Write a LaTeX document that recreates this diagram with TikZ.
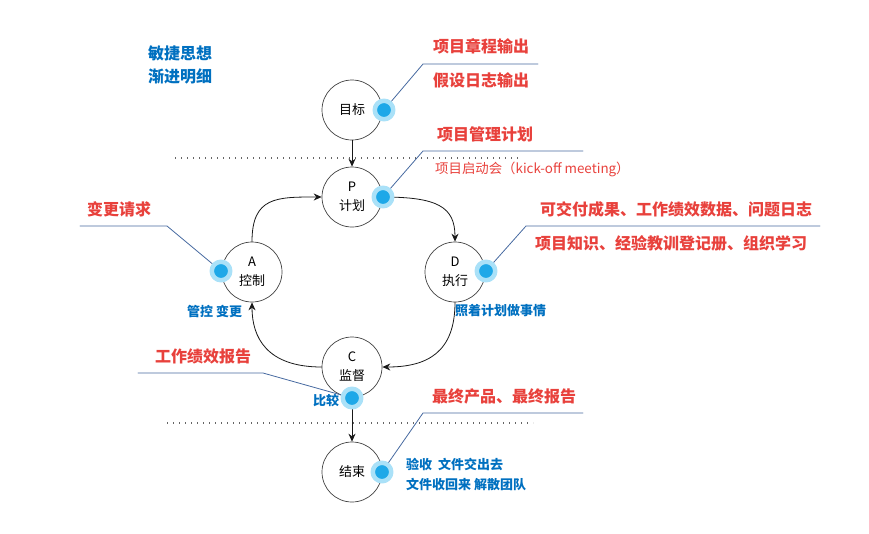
\documentclass[tikz,border=0pt]{standalone}
\usepackage{fontspec}
\setmainfont{Noto Sans CJK SC}
\usetikzlibrary{arrows.meta}
\definecolor{labelred}{RGB}{232,65,60}
\definecolor{noteblue}{RGB}{0,112,192}
\definecolor{leader}{RGB}{70,105,160}
\definecolor{dotblue}{RGB}{30,168,232}
\definecolor{glowblue}{RGB}{170,225,248}
\begin{document}
\begin{tikzpicture}[
		x=1pt,y=-1pt,
		>={Stealth[length=8pt,width=7pt]},
		line cap=round,
		line join=round,
		stage/.style={circle,draw=black!75,line width=0.7pt,minimum size=60pt,inner sep=0pt,align=center,font=\fontsize{13}{19}\selectfont},
		spot/.style={circle,fill=dotblue,draw=glowblue,line width=4.5pt,minimum size=18.5pt,inner sep=0pt},
		redlabel/.style={text=labelred,font=\fontsize{16}{18}\selectfont\bfseries,anchor=west,inner sep=0pt},
		bluenote/.style={text=noteblue,font=\fontsize{13}{20}\selectfont\bfseries,anchor=west,inner sep=0pt,align=left},
		leaderline/.style={draw=leader,line width=0.8pt},
		flow/.style={->,line width=0.8pt,black!90},
		phase/.style={line cap=butt,dash pattern=on 1.4pt off 4.6pt,line width=1.4pt,black!60}
		]
		\useasboundingbox (0,0) rectangle (869,533);
		% phase boundaries
		\draw[phase] (175,158) -- (522,158);
		\draw[phase] (167,423) -- (533,423);
		% stages
		\node[stage] (goal) at (352,110) {目标};
		\node[stage] (plan) at (352,197) {P\\计划};
		\node[stage] (act) at (252,272) {A\\控制};
		\node[stage] (do) at (455,272) {D\\执行};
		\node[stage] (check) at (352,367) {C\\监督};
		\node[stage] (close) at (352,472) {结束};
		% flow
		\draw[flow] (goal) -- (plan);
		\draw[flow] (act.north) .. controls +(0,-45) and +(-45,0) .. (plan.west);
		\draw[flow] (plan.east) .. controls +(55,0) and +(0,-35) .. (do.north);
		\draw[flow] (do.south) .. controls +(0,50) and +(45,0) .. (check.east);
		\draw[flow] (check.west) .. controls +(-55,0) and +(0,35) .. (act.south);
		\draw[flow] (check) -- (close);
		% leader lines
		\coordinate (goalkink) at (423,64);
		\coordinate (plankink) at (423,151);
		\coordinate (actkink) at (167,226);
		\coordinate (dokink) at (526,226);
		\coordinate (checkkink) at (263,373);
		\coordinate (closekink) at (423,413);
		\coordinate (goalspot) at (384,110);
		\coordinate (planspot) at (383,197);
		\coordinate (actspot) at (221,271);
		\coordinate (dospot) at (486,271);
		\coordinate (checkspot) at (352,398);
		\coordinate (closespot) at (382,472);
		\draw[leaderline] (goalspot) -- (goalkink) -- ++(115,0);
		\draw[leaderline] (planspot) -- (plankink) -- ++(160,0);
		\draw[leaderline] (actspot) -- (actkink) -- ++(-87,0);
		\draw[leaderline] (dospot) -- (dokink) -- ++(294,0);
		\draw[leaderline] (checkspot) -- (checkkink) -- ++(-125,0);
		\draw[leaderline] (closespot) -- (closekink) -- ++(160,0);
		\foreach \s in {goalspot,planspot,actspot,dospot,checkspot,closespot}
			\node[spot] (\s ball) at (\s) {};
		% labels
		\node[bluenote,font=\fontsize{16}{23}\selectfont\bfseries] (idea) at (148,64.5) {敏捷思想\\渐进明细};
		\node[redlabel] (charter) at (433,46) {项目章程输出};
		\node[redlabel] (assume) at (433,80) {假设日志输出};
		\node[redlabel] (pmplan) at (437,134) {项目管理计划};
		\node[redlabel,font=\fontsize{13.4}{15}\selectfont] (kickoff) at (435,169) {项目启动会（kick-off meeting）};
		\node[redlabel] (change) at (87,209) {变更请求};
		\node[redlabel] (deliver) at (540,209) {可交付成果、工作绩效数据、问题日志};
		\node[redlabel] (learn) at (535,243) {项目知识、经验教训登记册、组织学习};
		\node[redlabel] (report) at (155,356) {工作绩效报告};
		\node[redlabel] (final) at (432,396) {最终产品、最终报告};
		\node[bluenote] (control) at (187,311) {管控 变更};
		\node[bluenote] (follow) at (455,311) {照着计划做事情};
		\node[bluenote] (compare) at (313,401) {比较};
		\node[bluenote] (handover) at (406,474) {验收\ \ 文件交出去\\文件收回来 解散团队};
\end{tikzpicture}
\end{document}
